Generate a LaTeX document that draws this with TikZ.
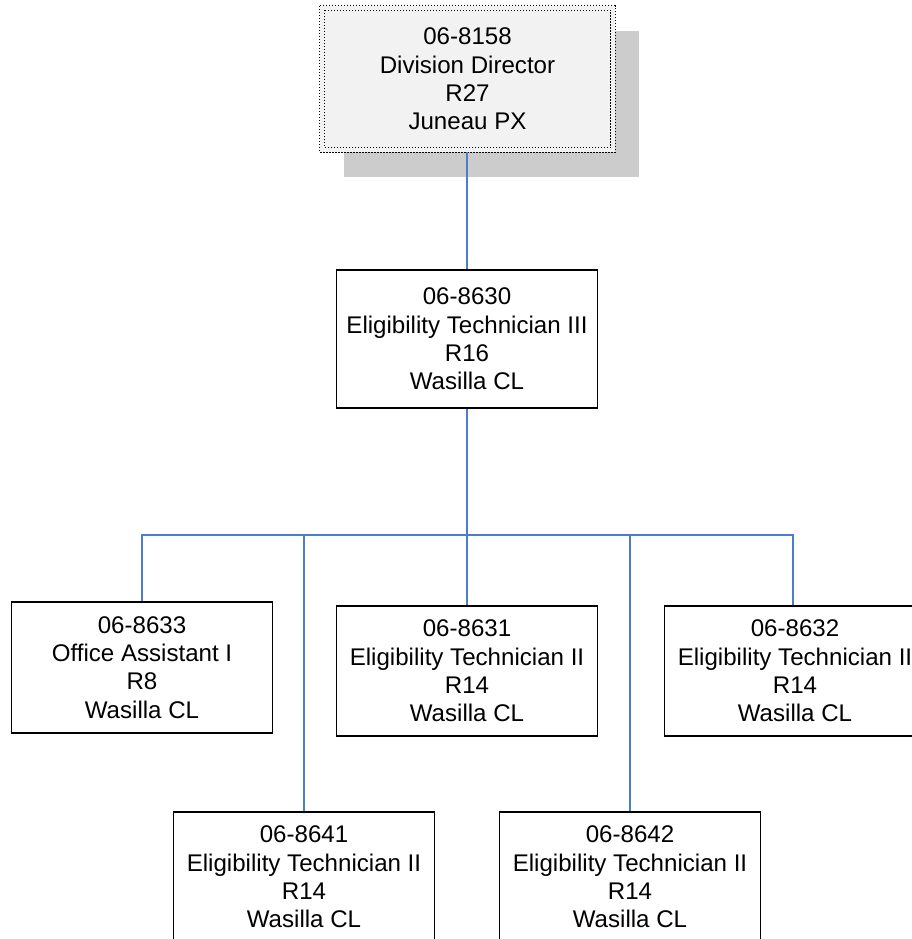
\documentclass[tikz,border=0pt]{standalone}
\usepackage{fontspec}
\setmainfont{Liberation Sans}
\usetikzlibrary{backgrounds}
\definecolor{linkblue}{RGB}{74,126,200}
\definecolor{topfill}{RGB}{242,242,242}
\definecolor{shadowgray}{RGB}{204,204,204}
\tikzset{
  posbox/.style={draw=black, line width=1.3pt, fill=white, align=center, inner sep=0pt,
    minimum width=261pt, font=\fontsize{24.1}{28.3}\selectfont},
  topbox/.style={fill=topfill, align=center, inner sep=0pt,
    minimum width=295pt, minimum height=146pt, font=\fontsize{24.1}{28.3}\selectfont},
  dotborder/.style={draw=black, line width=1.1pt, dash pattern=on 1.1pt off 1.9pt},
  link/.style={draw=linkblue, line width=2pt}
}
\begin{document}
\begin{tikzpicture}[x=1pt,y=-1pt]
\useasboundingbox (0,0) rectangle (911,939);
% top box
\node[topbox] (dir) at (467.5,79) {06-8158\\Division Director\\R27\\Juneau PX};
\begin{scope}[on background layer]
  \fill[shadowgray] ([shift={(24,25)}]dir.north west) rectangle ([shift={(24,25)}]dir.south east);
\end{scope}
\draw[dotborder] (dir.north west) rectangle (dir.south east);
\draw[dotborder] ([shift={(4.5,4.5)}]dir.north west) rectangle ([shift={(-4.5,-4.5)}]dir.south east);
% level 2
\node[posbox, minimum height=138pt] (et3) at (467,339) {06-8630\\Eligibility Technician III\\R16\\Wasilla CL};
% level 3
\node[posbox, minimum height=131pt] (oa) at (142,667.5) {06-8633\\Office Assistant I\\R8\\Wasilla CL};
\node[posbox, minimum height=130pt] (e31) at (467,671) {06-8631\\Eligibility Technician II\\R14\\Wasilla CL};
\node[posbox, minimum height=130pt] (e32) at (795,671) {06-8632\\Eligibility Technician II\\R14\\Wasilla CL};
\node[posbox, minimum height=130pt] (e41) at (304,877) {06-8641\\Eligibility Technician II\\R14\\Wasilla CL};
\node[posbox, minimum height=130pt] (e42) at (630,877) {06-8642\\Eligibility Technician II\\R14\\Wasilla CL};
% connectors
\coordinate (bus) at (467,535);
\draw[link] (dir.south -| et3.north) -- (et3.north);
\draw[link] (et3.south) -- (bus);
\draw[link] (bus) -| (oa.north);
\draw[link] (bus) -| ([xshift=-2pt]e32.north);
\draw[link] (bus) -- (e31.north);
\draw[link] (bus) -| (e41.north);
\draw[link] (bus) -| (e42.north);
\end{tikzpicture}
\end{document}
